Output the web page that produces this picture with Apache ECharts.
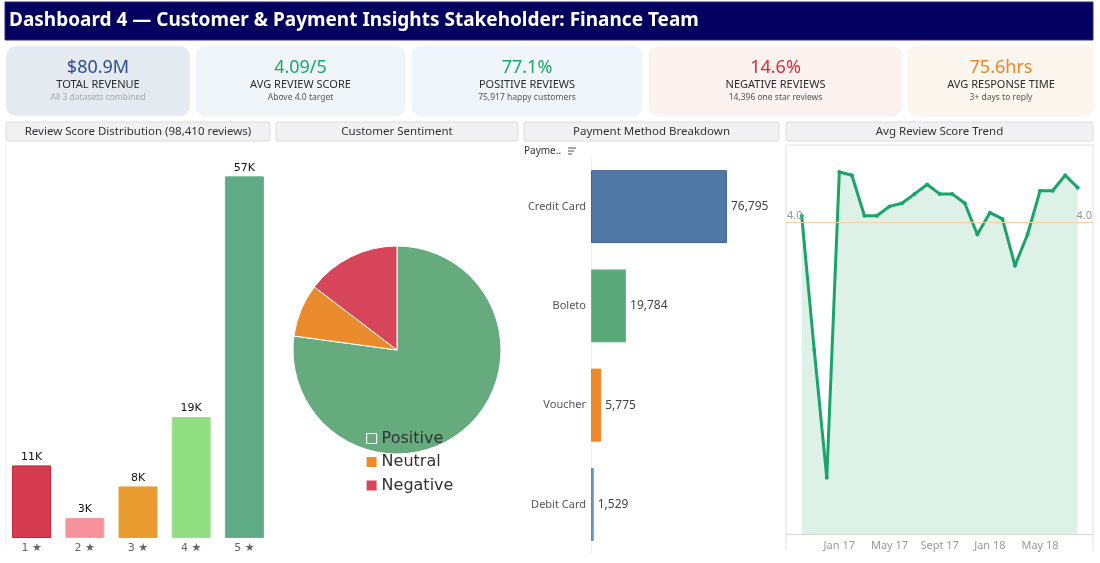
<!DOCTYPE html>
<html>
<head>
<meta charset="utf-8">
<script src="https://cdn.jsdelivr.net/npm/echarts@6/dist/echarts.min.js"></script>
<style>
html,body{margin:0;padding:0;background:#fff;}
#c{width:1100px;height:563px;}
</style>
</head>
<body>
<div id="c"></div>
<script>
// ---------- DATA ----------
const headerTitle = 'Dashboard 4 — Customer & Payment Insights Stakeholder: Finance Team';

const kpiValues = ['$80.9M', '4.09/5', '77.1%', '14.6%', '75.6hrs'];
const kpiTitles = ['TOTAL REVENUE', 'AVG REVIEW SCORE', 'POSITIVE REVIEWS', 'NEGATIVE REVIEWS', 'AVG RESPONSE TIME'];
const kpiNotes = ['All 3 datasets combined', 'Above 4.0 target', '75,917 happy customers', '14,396 one star reviews', '3+ days to reply'];

const panelTitles = ['Review Score Distribution (98,410 reviews)', 'Customer Sentiment', 'Payment Method Breakdown', 'Avg Review Score Trend'];

const scoreCats = ['1 ★', '2 ★', '3 ★', '4 ★', '5 ★'];
const scoreCounts = [11400, 3150, 8100, 19000, 56800];

const sentimentNames = ['Positive', 'Neutral', 'Negative'];
const sentimentValues = [75917, 8097, 14396];

const payMethods = ['Credit Card', 'Boleto', 'Voucher', 'Debit Card'];
const payCounts = [76795, 19784, 5775, 1529];

const trendMonths = ['Oct 16','Nov 16','Dec 16','Jan 17','Feb 17','Mar 17','Apr 17','May 17','Jun 17','Jul 17','Aug 17','Sept 17','Oct 17','Nov 17','Dec 17','Jan 18','Feb 18','Mar 18','Apr 18','May 18','Jun 18','Jul 18','Aug 18'];
const trendScores = [4.02,3.59,3.18,4.16,4.15,4.02,4.02,4.05,4.06,4.09,4.12,4.09,4.09,4.06,3.96,4.03,4.01,3.86,3.96,4.10,4.10,4.15,4.11];
const trendTickLabels = ['Jan 17', 'May 17', 'Sept 17', 'Jan 18', 'May 18'];
const targetScore = 4.0;

// ---------- STYLE ----------
const FONT = '"Noto Sans", "Open Sans", sans-serif';
const DV = '"DejaVu Sans", sans-serif';
const kpiBoxes = [[6,190],[196,405],[412,642],[649,902],[908,1094]];
const kpiFills = ['#e5e9f0','#f0f5fa','#eff5fb','#fcf2f0','#fdf6ef'];
const kpiColors = ['#2c4f8f','#1aa866','#1aa866','#d92c3c','#f08528'];
const panelBoxes = [[6,270],[276,518],[524,779],[786,1093]];
const scoreColors = ['#d63b4f','#f7929c','#e89b2e','#91dd81','#5eab85'];
const scoreBorders = ['#c51f37','#f4a0a8','#e0a040','#a0e090','#6ab28e'];
const sentimentColors = ['#66ab7e','#ea8b2d','#d6455a'];
const payColors = ['#5077a6','#59a87a','#ee8a2b','#6f9bd1'];
const payBorders = ['#3e6596','#6ab489','#e78527','#5b8ac2'];

const graphics = [];
// header
graphics.push({type:'rect', shape:{x:5,y:2,width:1088,height:38}, style:{fill:'#03005f', stroke:'#2a2a80', lineWidth:1}});
graphics.push({type:'text', x:9, y:21, style:{text:headerTitle, fill:'#ffffff', font:'bold 19px ' + FONT, textVerticalAlign:'middle'}});
// KPI cards
kpiBoxes.forEach((b, i) => {
  const cx = (b[0] + b[1]) / 2;
  graphics.push({type:'rect', shape:{x:b[0], y:46, width:b[1]-b[0], height:70, r:10}, style:{fill:kpiFills[i], stroke:'#f4f4f6', lineWidth:1}});
  graphics.push({type:'text', x:cx, y:68, style:{text:kpiValues[i], fill:kpiColors[i], font:'18px ' + FONT, textAlign:'center', textVerticalAlign:'middle'}});
  graphics.push({type:'text', x:cx, y:85, style:{text:kpiTitles[i], fill:'#2a2a2a', font:'11px ' + FONT, textAlign:'center', textVerticalAlign:'middle'}});
  graphics.push({type:'text', x:cx, y:98, style:{text:kpiNotes[i], fill: i === 0 ? '#a8a8a8' : '#555', font:'8.5px ' + FONT, textAlign:'center', textVerticalAlign:'middle'}});
});
// panel title bars
panelBoxes.forEach((b, i) => {
  graphics.push({type:'rect', shape:{x:b[0], y:122, width:b[1]-b[0], height:19, r:2}, style:{fill:'#f1f1f3', stroke:'#dcdcdf', lineWidth:1}});
  graphics.push({type:'text', x:(b[0]+b[1])/2, y:131.5, style:{text:panelTitles[i], fill:'#333', font:'11.5px ' + FONT, textAlign:'center', textVerticalAlign:'middle'}});
});
// panel borders
graphics.push({type:'line', shape:{x1:6,y1:145,x2:6,y2:545}, style:{stroke:'#eeeeee', lineWidth:1}});
graphics.push({type:'line', shape:{x1:786,y1:145,x2:1093,y2:145}, style:{stroke:'#e2e2e2', lineWidth:1}});
graphics.push({type:'line', shape:{x1:786,y1:145,x2:786,y2:550}, style:{stroke:'#e2e2e2', lineWidth:1}});
graphics.push({type:'line', shape:{x1:1093,y1:145,x2:1093,y2:550}, style:{stroke:'#e2e2e2', lineWidth:1}});
// payment header text + sort icon
graphics.push({type:'text', x:524, y:151, style:{text:'Payme..', fill:'#333', font:'10px ' + FONT, textVerticalAlign:'middle'}});
[[568,576,148],[568,574,151],[568,572,154]].forEach(l => {
  graphics.push({type:'line', shape:{x1:l[0],y1:l[2],x2:l[1],y2:l[2]}, style:{stroke:'#555', lineWidth:1}});
});

const option = {
  animation: false,
  backgroundColor: '#ffffff',
  textStyle: {fontFamily: FONT},
  graphic: graphics,
  grid: [
    {left:5, width:266, top:156, bottom:25},
    {left:591, width:177, top:157, height:397},
    {left:786, right:7, top:144, bottom:29}
  ],
  xAxis: [
    {gridIndex:0, type:'category', data:scoreCats, axisLine:{show:false}, axisTick:{show:false},
     axisLabel:{color:'#666', fontSize:11, fontFamily:DV, margin:5}},
    {gridIndex:1, type:'value', min:0, max:100000, show:false},
    {gridIndex:2, type:'value', min:-1.25, max:23.22,
     axisLine:{show:true, lineStyle:{color:'#d6d6d6'}}, axisTick:{show:false}, splitLine:{show:false},
     axisLabel:{show:true, customValues: trendTickLabels.map(t => trendMonths.indexOf(t)),
       formatter: v => trendMonths[Math.round(v)], color:'#999', fontSize:11, margin:6}}
  ],
  yAxis: [
    {gridIndex:0, type:'value', min:0, max:60000, show:false},
    {gridIndex:1, type:'category', data:payMethods, inverse:true,
     axisLine:{show:true, lineStyle:{color:'#f0f0f0'}}, axisTick:{show:false},
     axisLabel:{color:'#555', fontSize:11, margin:5}},
    {gridIndex:2, type:'value', min:3.0, max:4.25, show:false}
  ],
  legend: {
    orient:'vertical', left:361, top:425, itemWidth:10, itemHeight:10, itemGap:6.5,
    textStyle:{fontSize:16, color:'#333', fontFamily:DV, lineHeight:17},
    data: sentimentNames.map((n, i) => ({name:n, icon:'rect',
      itemStyle: i === 0 ? {color:sentimentColors[0], borderColor:'#f4f4f4', borderWidth:1.2} : {color:sentimentColors[i], borderWidth:0}}))
  },
  series: [
    {
      type:'bar', xAxisIndex:0, yAxisIndex:0, barWidth:39,
      data: scoreCounts.map((v, i) => ({value:v, itemStyle:{color:scoreColors[i], borderColor:scoreBorders[i], borderWidth:1}})),
      label:{show:true, position:'top', distance:3, color:'#111', fontSize:11, fontFamily:DV,
        formatter: p => Math.round(p.value / 1000) + 'K'}
    },
    {
      type:'pie', center:[397,350], radius:104, startAngle:90, clockwise:true,
      label:{show:false}, labelLine:{show:false},
      itemStyle:{borderColor:'#ffffff', borderWidth:1},
      data: sentimentNames.map((n, i) => ({name:n, value:sentimentValues[i], itemStyle:{color:sentimentColors[i]}}))
    },
    {
      type:'bar', xAxisIndex:1, yAxisIndex:1, barWidth:73,
      data: payCounts.map((v, i) => ({value:v, itemStyle:{color:payColors[i], borderColor:payBorders[i], borderWidth:1}})),
      label:{show:true, position:'right', distance:4, color:'#444', fontSize:12,
        formatter: p => p.value.toLocaleString('en-US')}
    },
    {
      type:'line', xAxisIndex:2, yAxisIndex:2,
      data: trendScores.map((v, i) => [i, v]),
      symbol:'circle', symbolSize:4, showSymbol:true,
      lineStyle:{color:'#1ba46a', width:3},
      itemStyle:{color:'#1ba46a'},
      areaStyle:{color:'#def1e8', origin:'start', opacity:1},
      markLine:{
        silent:true, symbol:'none',
        lineStyle:{color:'#f7d0a4', width:1, type:'solid'},
        label:{color:'#999', fontSize:11, formatter:'4.0'},
        data:[
          {yAxis:targetScore, label:{position:'insideStartTop', distance:[1,1]}},
          {yAxis:targetScore, label:{position:'insideEndTop', distance:[1,1]}}
        ]
      }
    }
  ]
};

const chart = echarts.init(document.getElementById('c'), null, {renderer:'canvas'});
chart.setOption(option);
</script>
</body>
</html>
